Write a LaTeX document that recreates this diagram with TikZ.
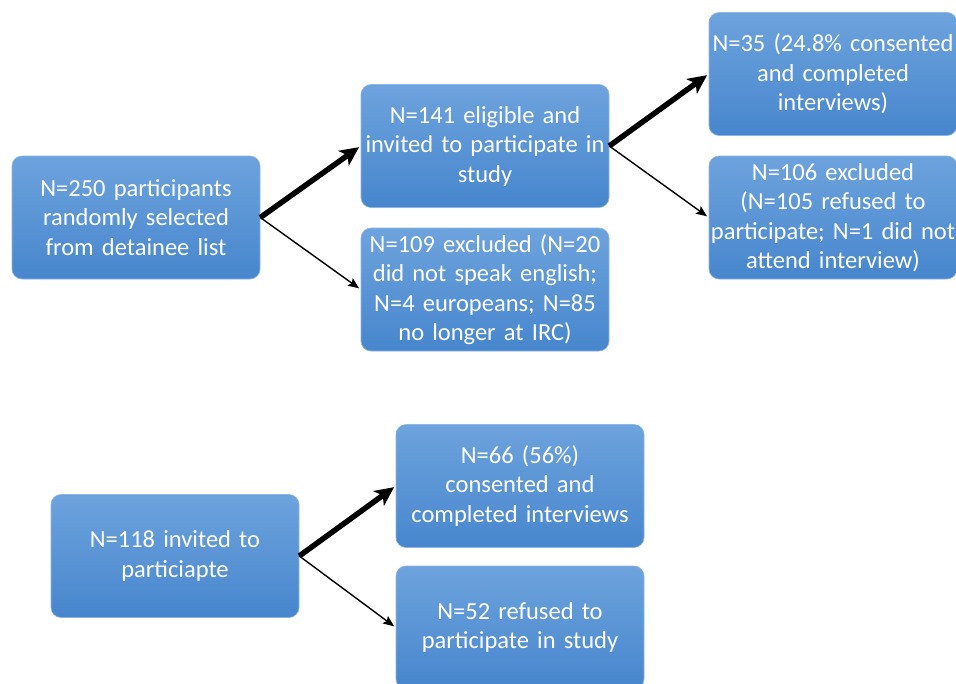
\documentclass[tikz,border=0pt]{standalone}
\usepackage{fontspec}
\setmainfont{Carlito}
\usetikzlibrary{arrows.meta}
\definecolor{boxtop}{HTML}{6DA3DD}
\definecolor{boxbot}{HTML}{4786CD}
\definecolor{boxedge}{HTML}{8DB6E4}
\begin{document}
\begin{tikzpicture}[x=1pt,y=-1pt,
  flowbox/.style={rectangle, rounded corners=10pt, top color=boxtop, bottom color=boxbot,
    draw=boxedge, line width=0.6pt, minimum width=248pt, minimum height=123pt,
    text width=246pt, align=center, inner sep=0pt, text=white,
    font=\fontsize{24.5}{29.5}\selectfont},
  thickarrow/.style={line width=5.5pt, -{Stealth[length=19pt,width=18pt,inset=5pt]}, shorten >=2pt},
  thinarrow/.style={line width=1.4pt, -{Stealth[length=11pt,width=9pt,inset=2pt]}, shorten >=2pt}]
\clip (0,0) rectangle (956,683);
\fill[white] (0,0) rectangle (956,683);
\node[flowbox] (a) at (136,217.5) {N=250 participants\\randomly selected\\from detainee list};
\node[flowbox] (b) at (485,146) {N=141 eligible and\\invited to participate in\\study};
\node[flowbox] (c) at (485,289.5) {N=109 excluded (N=20\\did not speak english;\\N=4 europeans; N=85\\no longer at IRC)};
\node[flowbox] (d) at (833,74) {N=35 (24.8\% consented\\and completed\\interviews)};
\node[flowbox] (e) at (833,217.5) {N=106 excluded\\(N=105 refused to\\participate; N=1 did not\\attend interview)};
\node[flowbox] (f) at (175,556) {N=118 invited to\\particiapte};
\node[flowbox] (g) at (520,486) {N=66 (56\%)\\consented and\\completed interviews};
\node[flowbox] (h) at (520,627.5) {N=52 refused to\\participate in study};
\draw[thickarrow] (a.east) -- (b.west);
\draw[thinarrow] (a.east) -- (c.west);
\draw[thickarrow] (b.east) -- (d.west);
\draw[thinarrow] (b.east) -- (e.west);
\draw[thickarrow] (f.east) -- (g.west);
\draw[thinarrow] (f.east) -- (h.west);
\end{tikzpicture}
\end{document}
